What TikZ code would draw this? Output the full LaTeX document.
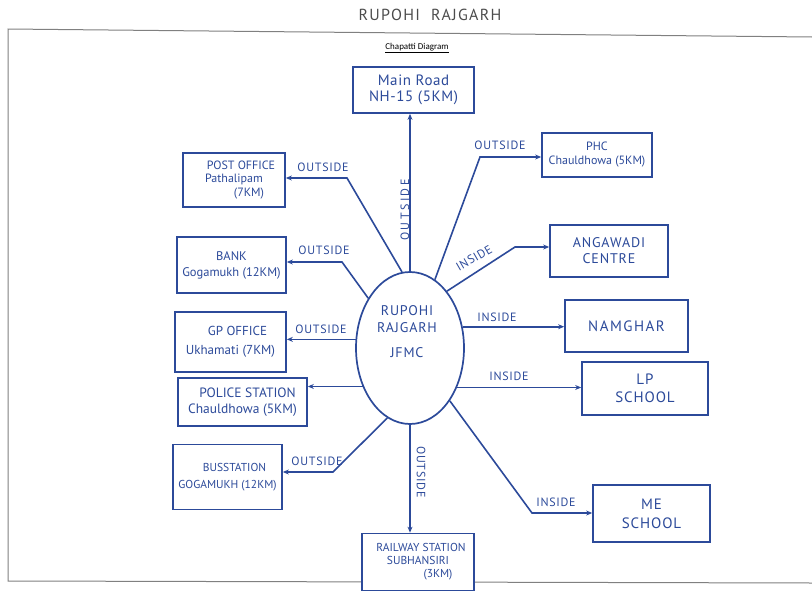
\documentclass[tikz,border=0pt]{standalone}
\usepackage{fontspec}
\setmainfont{PT Sans}
\newfontfamily\calib{Carlito}
\usetikzlibrary{shapes.geometric,arrows.meta}
\definecolor{ink}{HTML}{2C4A9A}
\definecolor{paperline}{HTML}{808080}
\begin{document}
\begin{tikzpicture}[x=1pt,y=-1pt,
  box/.style={draw=ink, line width=1.7pt, fill=white, text=ink, align=center, inner sep=1pt},
  link/.style={draw=ink, line width=1.6pt, -{Stealth[length=6pt,width=5pt]}},
  lbl/.style={text=ink, font=\fontsize{12}{13}\selectfont\addfontfeature{LetterSpace=6}, inner sep=0pt}]
\useasboundingbox (0,0) rectangle (812,592);
% page
\draw[paperline, line width=1pt] (812,37) -- (8,29) -- (8,581) -- (812,583);
\node[text=black!70, font=\fontsize{16}{17}\selectfont\addfontfeature{LetterSpace=8}] (title) at (430,15) {RUPOHI\ \ RAJGARH};
\node[font=\calib\fontsize{9}{10}\selectfont] (sub) at (417,48) {\underline{Chapatti Diagram}};
% centre
\node[draw=ink, line width=1.7pt, ellipse, minimum width=108pt, minimum height=152pt, inner sep=0pt] (c) at (410,348) {};
\node[text=ink, align=center, font=\fontsize{14}{17}\selectfont\addfontfeature{LetterSpace=6}] (ctext) at (407,332) {RUPOHI\\RAJGARH\\[8pt]JFMC};
% boxes
\node[box, minimum width=121pt, minimum height=46pt, font=\fontsize{15}{16}\selectfont\addfontfeature{LetterSpace=4}] (main) at (413.5,90) {Main Road\\NH-15 (5KM)};
\node[box, minimum width=102pt, minimum height=54pt, font=\fontsize{12}{13.5}\selectfont] (post) at (234,180) {\hspace*{14pt}POST OFFICE\\Pathalipam\\\hspace*{30pt}(7KM)};
\node[box, minimum width=109pt, minimum height=56pt, font=\fontsize{12.5}{16}\selectfont] (bank) at (231.5,265) {BANK\\Gogamukh (12KM)};
\node[box, minimum width=111pt, minimum height=60pt, font=\fontsize{13}{19}\selectfont] (gp) at (230.5,342) {\hspace*{14pt}GP OFFICE\\Ukhamati (7KM)};
\node[box, minimum width=129pt, minimum height=48pt, font=\fontsize{13.5}{16}\selectfont] (police) at (242.5,402) {\hspace*{10pt}POLICE STATION\\Chauldhowa (5KM)};
\node[box, minimum width=109pt, minimum height=65pt, font=\fontsize{11.5}{17}\selectfont] (bus) at (227.5,477) {\hspace*{14pt}BUSSTATION\\GOGAMUKH (12KM)};
\node[box, minimum width=112pt, minimum height=57pt, font=\fontsize{11.5}{13}\selectfont] (rail) at (418,562) {\hspace*{6pt}RAILWAY STATION\\SUBHANSIRI\hspace*{30pt}\\\hspace*{40pt}(3KM)};
\node[box, minimum width=110pt, minimum height=44pt, font=\fontsize{12}{14}\selectfont] (phc) at (597,155) {PHC\\Chauldhowa (5KM)};
\node[box, minimum width=118pt, minimum height=52pt, font=\fontsize{14}{16}\selectfont\addfontfeature{LetterSpace=6}] (anga) at (609,251) {ANGAWADI\\CENTRE};
\node[box, minimum width=123pt, minimum height=52pt, font=\fontsize{15}{17}\selectfont\addfontfeature{LetterSpace=10}] (nam) at (626.5,326) {NAMGHAR};
\node[box, minimum width=126pt, minimum height=53pt, font=\fontsize{15}{18}\selectfont\addfontfeature{LetterSpace=6}] (lp) at (645,388.5) {LP\\SCHOOL};
\node[box, minimum width=117pt, minimum height=57pt, font=\fontsize{15}{19}\selectfont\addfontfeature{LetterSpace=6}] (me) at (651.5,513.5) {ME\\SCHOOL};
% bend points
\coordinate (kpost) at (347,178);
\coordinate (kbank) at (342,262);
\coordinate (kbus) at (333,472);
\coordinate (kphc) at (480,157);
\coordinate (kanga) at (515,247);
\coordinate (kme) at (532,513);
% connectors
\draw[link] (c.90) -- (c.90 |- main.south);
\draw[link] (c.-90) -- (c.-90 |- rail.north);
\draw[link] (c.96) -- (kpost) -- (kpost -| post.east);
\draw[link] (c.130) -- (kbank) -- (kbank -| bank.east);
\draw[link] (c.171) -- (c.171 -| gp.east);
\draw[link] (c.-141) -- (c.-141 -| police.east);
\draw[link] (c.-108) -- (kbus) -- (kbus -| bus.east);
\draw[link] (c.70) -- (kphc) -- (kphc -| phc.west);
\draw[link] (c.57) -- (kanga) -- (kanga -| anga.west);
\draw[link] (c.22) -- (c.22 -| nam.west);
\draw[link] (c.-40) -- (c.-40 -| lp.west);
\draw[link] (c.-53) -- (kme) -- (kme -| me.west);
% labels
\node[lbl, rotate=90, font=\fontsize{12}{13}\selectfont\addfontfeature{LetterSpace=20}] (lmain) at (405,210) {OUTSIDE};
\node[lbl, rotate=-90] (lrail) at (421,472) {OUTSIDE};
\node[lbl] (lpost) at (323,167) {OUTSIDE};
\node[lbl] (lbank) at (324,250) {OUTSIDE};
\node[lbl] (lgp) at (321,329) {OUTSIDE};
\node[lbl] (lbus) at (317,461) {OUTSIDE};
\node[lbl] (lphc) at (500,145) {OUTSIDE};
\node[lbl, rotate=30] (langa) at (474,258) {INSIDE};
\node[lbl] (lnam) at (497,317) {INSIDE};
\node[lbl] (llp) at (509,376) {INSIDE};
\node[lbl] (lme) at (556,502) {INSIDE};
\end{tikzpicture}
\end{document}
